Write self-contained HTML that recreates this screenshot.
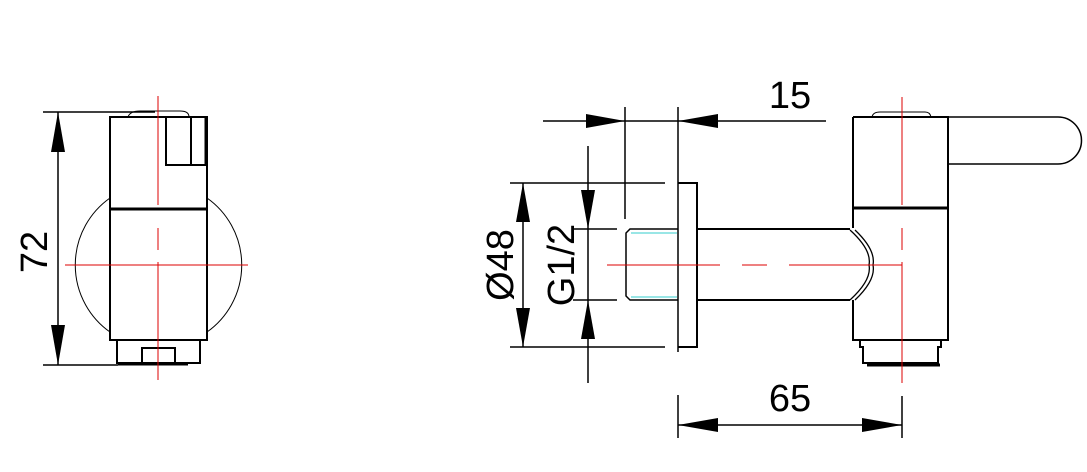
<!DOCTYPE html>
<html><head><meta charset="utf-8"><style>html,body{margin:0;padding:0;background:#fff}svg{display:block}</style></head>
<body>
<svg width="1087" height="472" viewBox="0 0 1087 472" xmlns="http://www.w3.org/2000/svg" font-family="Liberation Sans, sans-serif">
<g fill="none" stroke="#000" stroke-width="2">
<!-- LEFT VIEW -->
<path d="M110 117H207V340H110Z"/>
<path d="M110 209H207" stroke-width="3"/>
<path d="M166 117V165H206M191 117V165"/>
<path d="M206 117V165" stroke-width="3"/>
<path d="M128 117Q130 111 140 111H180Q189 111 189 117" stroke-width="1"/>
<path d="M110 198A82 82 0 0 0 110 332M207 198A82 82 0 0 1 207 332" stroke-width="1"/>
<path d="M117 340V363H200V340M142 363V348H175V363"/>
<path d="M118 364H188" stroke-width="3"/>
<!-- 72 dim -->
<path d="M43 112H155M43 365H118M58 112V365" stroke-width="1.5"/>
<!-- RIGHT VIEW -->
<path d="M543 121H826" stroke-width="1.5"/>
<path d="M625 107V219M678 107V352" stroke-width="1.5"/>
<path d="M678 183H697V347H678"/>
<path d="M510 183H665M510 347H665M523 183V347" stroke-width="1.5"/>
<path d="M588 146V383M573 229H617M573 300H617" stroke-width="1.5"/>
<path d="M678 229H630L626 233V296L630 300H678" stroke-width="1.5"/>
<path d="M631 233H677M631 297H677" stroke="#3cc" stroke-width="1"/>
<path d="M697 229H850M697 300H850"/>
<path d="M853 117H948V340H853V300M853 228V117"/>
<path d="M853 208H948" stroke-width="3"/>
<path d="M850 230Q872 250 869 265Q872 280 850 300M855 230Q876 250 873 265Q876 280 855 300" stroke-width="1.3"/>
<path d="M948 117H1058A23.5 23.5 0 0 1 1058 164H948" stroke-width="1.5"/>
<path d="M872 117Q873 112 880 112H925Q930 112 931 117" stroke-width="1"/>
<path d="M860 340V347H863V363H938V347H941V340"/>
<path d="M867 365H940" stroke-width="3"/>
<path d="M678 395V438M902 396V438M678 425H902" stroke-width="1.5"/>
</g>
<!-- arrows -->
<g fill="#000">
<path d="M58 112L51 152H65Z"/><path d="M58 365L51 325H65Z"/>
<path d="M625 121L586 114V128Z"/><path d="M678 121L718 114V128Z"/>
<path d="M523 183L516 222H530Z"/><path d="M523 347L516 308H530Z"/>
<path d="M588 229L581 190H595Z"/><path d="M588 300L581 339H595Z"/>
<path d="M678 425L718 418V432Z"/><path d="M902 425L862 418V432Z"/>
</g>
<!-- center lines -->
<g stroke="#d00" stroke-width="1" fill="none">
<path d="M158 96V205M158 228V250M158 262V380M65 265H248"/>
<path d="M607 265H720M742 265H767M789 265H870M902 97V205M902 228V250M902 262V383M870 265H902"/>
</g>
<g fill="#000" font-size="38">
<text x="790" y="108" text-anchor="middle">15</text>
<text x="790" y="411" text-anchor="middle">65</text>
<text transform="translate(47 252) rotate(-90)" text-anchor="middle">72</text>
<text transform="translate(513 265) rotate(-90)" text-anchor="middle">Ø48</text>
<text transform="translate(574 265) rotate(-90)" text-anchor="middle">G1/2</text>
</g>
</svg>
</body></html>
